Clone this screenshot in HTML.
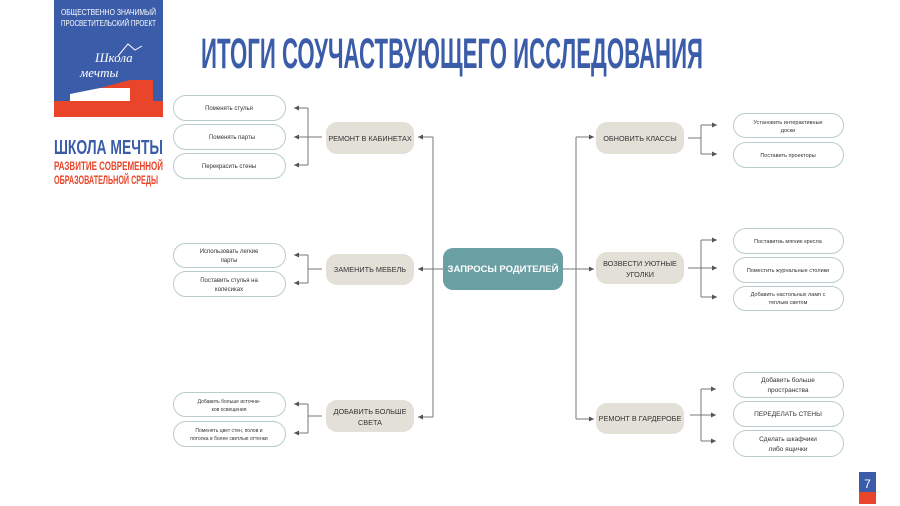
<!DOCTYPE html>
<html><head><meta charset="utf-8"><style>
html,body{margin:0;padding:0;background:#fff;}
svg{display:block;font-family:"Liberation Sans",sans-serif;}
</style></head><body>
<svg width="900" height="506" viewBox="0 0 900 506" xmlns="http://www.w3.org/2000/svg">
<defs><marker id="a" markerWidth="6" markerHeight="6" refX="5" refY="3" orient="auto" markerUnits="userSpaceOnUse"><path d="M0,0.5 L5,3 L0,5.5z" fill="#555"/></marker></defs>
<!-- logo -->
<rect x="54" y="0" width="109" height="117" fill="#3b5ca8"/>
<rect x="54" y="101" width="109" height="16" fill="#e8452a"/>
<polygon points="70,101 70,94 100,88 100,101" fill="#fff"/>
<polygon points="100,101 100,88 130,88 130,101" fill="#fff"/>
<polygon points="100,88 130,88 130,80 100,88" fill="#e8452a"/>
<polygon points="130,80 153,80 153,101 130,101" fill="#e8452a"/>
<text x="108.5" y="15" font-size="8" fill="#fff" text-anchor="middle" textLength="95" lengthAdjust="spacingAndGlyphs">ОБЩЕСТВЕННО ЗНАЧИМЫЙ</text>
<text x="108.5" y="26" font-size="8" fill="#fff" text-anchor="middle" textLength="95" lengthAdjust="spacingAndGlyphs">ПРОСВЕТИТЕЛЬСКИЙ ПРОЕКТ</text>
<text x="95" y="62" font-size="13" font-style="italic" fill="#fff" font-family="Liberation Serif,serif">Школа</text>
<text x="80" y="77" font-size="13" font-style="italic" fill="#fff" font-family="Liberation Serif,serif">мечты</text>
<path d="M118,56 L128,44 L135,50 L142,46" stroke="#fff" fill="none" stroke-width="1"/>
<text x="54" y="154" font-size="20" font-weight="bold" fill="#3b5ca8" textLength="109" lengthAdjust="spacingAndGlyphs">ШКОЛА МЕЧТЫ</text>
<text x="54" y="170" font-size="12" font-weight="bold" fill="#e8452a" textLength="109" lengthAdjust="spacingAndGlyphs">РАЗВИТИЕ СОВРЕМЕННОЙ</text>
<text x="54" y="184" font-size="12" font-weight="bold" fill="#e8452a" textLength="104" lengthAdjust="spacingAndGlyphs">ОБРАЗОВАТЕЛЬНОЙ СРЕДЫ</text>
<!-- title -->
<text x="201" y="68" font-size="43" font-weight="bold" fill="#3b5ca8" textLength="502" lengthAdjust="spacingAndGlyphs">ИТОГИ СОУЧАСТВУЮЩЕГО ИССЛЕДОВАНИЯ</text>
<!-- page num -->
<rect x="859" y="472" width="17" height="20" fill="#3b5ca8"/>
<rect x="859" y="492" width="17" height="12" fill="#e8452a"/>
<text x="867.5" y="488" font-size="12" fill="#fff" text-anchor="middle">7</text>
<!-- lines -->
<g stroke="#777" stroke-width="1" fill="none">
<path d="M433,137 V417"/>
<path d="M433,137 H418" marker-end="url(#a)"/>
<path d="M443,269 H418" marker-end="url(#a)"/>
<path d="M433,417 H418" marker-end="url(#a)"/>
<path d="M563,269 H576"/>
<path d="M576,137 V419"/>
<path d="M576,137 H594" marker-end="url(#a)"/>
<path d="M576,269 H594" marker-end="url(#a)"/>
<path d="M576,419 H594" marker-end="url(#a)"/>
<path d="M322,137 H308 M308,108 V165"/>
<path d="M308,108 H294" marker-end="url(#a)"/><path d="M308,137 H294" marker-end="url(#a)"/><path d="M308,165 H294" marker-end="url(#a)"/>
<path d="M322,269 H308 M308,255 V283"/>
<path d="M308,255 H294" marker-end="url(#a)"/><path d="M308,283 H294" marker-end="url(#a)"/>
<path d="M322,416 H308 M308,404 V433"/>
<path d="M308,404 H294" marker-end="url(#a)"/><path d="M308,433 H294" marker-end="url(#a)"/>
<path d="M688,138 H701 M701,125 V154"/>
<path d="M701,125 H717" marker-end="url(#a)"/><path d="M701,154 H717" marker-end="url(#a)"/>
<path d="M688,268 H701 M701,240 V297"/>
<path d="M701,240 H717" marker-end="url(#a)"/><path d="M701,268 H717" marker-end="url(#a)"/><path d="M701,297 H717" marker-end="url(#a)"/>
<path d="M690,415 H701 M701,389 V441"/>
<path d="M701,389 H716" marker-end="url(#a)"/><path d="M701,415 H716" marker-end="url(#a)"/><path d="M701,441 H716" marker-end="url(#a)"/>
</g>
<!-- center -->
<rect x="443" y="248" width="120" height="42" rx="10" fill="#6a9fa3"/>
<text x="503" y="272" font-size="9.5" font-weight="bold" fill="#fff" text-anchor="middle">ЗАПРОСЫ РОДИТЕЛЕЙ</text>
<!-- mid nodes -->
<g fill="#e3e0d8">
<rect x="326" y="122" width="88" height="32" rx="11"/>
<rect x="326" y="254" width="88" height="31" rx="11"/>
<rect x="326" y="400" width="88" height="32" rx="11"/>
<rect x="596" y="122" width="88" height="32" rx="11"/>
<rect x="596" y="252" width="88" height="32" rx="11"/>
<rect x="596" y="403" width="88" height="31" rx="11"/>
</g>
<g font-size="7.3" fill="#333" text-anchor="middle">
<text x="370" y="141">РЕМОНТ В КАБИНЕТАХ</text>
<text x="370" y="272">ЗАМЕНИТЬ МЕБЕЛЬ</text>
<text x="370" y="414">ДОБАВИТЬ БОЛЬШЕ</text><text x="370" y="425">СВЕТА</text>
<text x="640" y="141">ОБНОВИТЬ КЛАССЫ</text>
<text x="640" y="266">ВОЗВЕСТИ УЮТНЫЕ</text><text x="640" y="277">УГОЛКИ</text>
<text x="640" y="421">РЕМОНТ В ГАРДЕРОБЕ</text>
</g>
<!-- leaves -->
<g fill="#fff" stroke="#b8cccc" stroke-width="1">
<rect x="173.5" y="95.5" width="112" height="25" rx="12.5"/>
<rect x="173.5" y="124.5" width="112" height="25" rx="12.5"/>
<rect x="173.5" y="153.5" width="112" height="25" rx="12.5"/>
<rect x="173.5" y="243.5" width="112" height="24" rx="12"/>
<rect x="173.5" y="271.5" width="112" height="25" rx="12.5"/>
<rect x="173.5" y="392.5" width="112" height="24" rx="12"/>
<rect x="173.5" y="421.5" width="112" height="25" rx="12.5"/>
<rect x="733.5" y="113.5" width="110" height="24" rx="12"/>
<rect x="733.5" y="142.5" width="110" height="25" rx="12.5"/>
<rect x="733.5" y="228.5" width="110" height="25" rx="12.5"/>
<rect x="733.5" y="257.5" width="110" height="25" rx="12.5"/>
<rect x="733.5" y="286.5" width="110" height="24" rx="12"/>
<rect x="733.5" y="372.5" width="110" height="25" rx="12.5"/>
<rect x="733.5" y="401.5" width="110" height="25" rx="12.5"/>
<rect x="733.5" y="430.5" width="110" height="26" rx="13"/>
</g>
<g font-size="6" fill="#333" text-anchor="middle">
<text x="229" y="110">Поменять стулья</text>
<text x="232" y="139">Поменять парты</text>
<text x="229" y="168">Перекрасить стены</text>
<text x="229" y="253">Использовать легкие</text><text x="229" y="262">парты</text>
<text x="229" y="282">Поставить стулья на</text><text x="229" y="291">колесиках</text>
<text x="229" y="403" font-size="5">Добавить больше источни-</text><text x="229" y="411" font-size="5">ков освещения</text>
<text x="229" y="432" font-size="5">Поменять цвет стен, полов и</text><text x="229" y="440" font-size="5">потолка в более светлые оттенки</text>
<text x="788" y="124" font-size="5.5">Установить интерактивные</text><text x="788" y="132" font-size="5.5">доски</text>
<text x="788" y="157" font-size="5.5">Поставить проекторы</text>
<text x="788" y="243" font-size="5.5">Поставитиь мягкие кресла</text>
<text x="788" y="272" font-size="5.5">Поместить журнальные столики</text>
<text x="788" y="296" font-size="5.5">Добавить настольных ламп с</text><text x="788" y="304" font-size="5.5">теплым светом</text>
<text x="788" y="382" font-size="6.5">Добавить больше</text><text x="788" y="392" font-size="6.5">пространства</text>
<text x="788" y="416" font-size="6.5">ПЕРЕДЕЛАТЬ СТЕНЫ</text>
<text x="788" y="441" font-size="6.5">Сделать шкафчики</text><text x="788" y="451" font-size="6.5">либо ящички</text>
</g>
</svg>
</body></html>
